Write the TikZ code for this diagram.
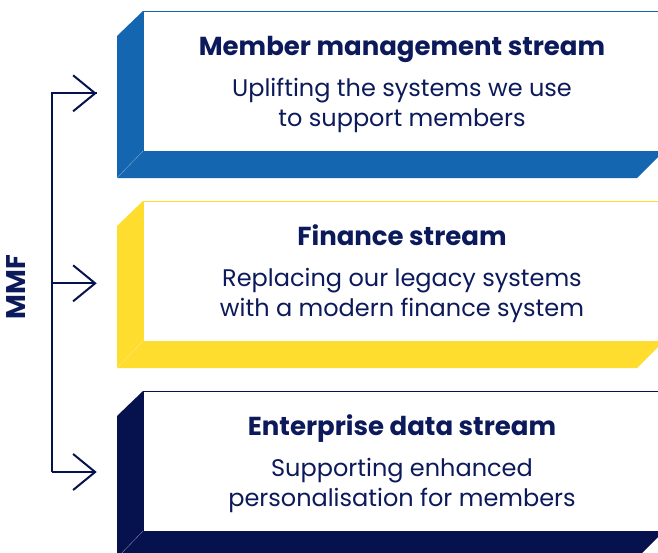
\documentclass[tikz,border=0pt]{standalone}
\usepackage{fontspec}
\setmainfont{Poppins}
\usetikzlibrary{arrows.meta}
\definecolor{mblue}{HTML}{1566B0}
\definecolor{myellow}{HTML}{FFDD2E}
\definecolor{mnavy}{HTML}{06124E}
\definecolor{tnavy}{HTML}{0C1A5B}
\tikzset{
  titletext/.style={anchor=base, text=tnavy, font=\bfseries\fontsize{26}{30}\selectfont, inner sep=0pt},
  subtext/.style={anchor=base, text=tnavy, font=\fontsize{24}{30}\selectfont, inner sep=0pt},
  branch/.style={draw=mnavy, line width=2pt, -{Straight Barb[length=22pt,width=36pt,line width=2pt]}},
  trunk/.style={draw=mnavy, line width=2pt},
}
\newcommand{\streambox}[3]{% #1 top y, #2 fill colour, #3 edge colour
  \fill[#2] (143,#1) -- (117,#1+25) -- (117,#1+167) -- (637,#1+167) -- (664,#1+140) -- (143,#1+140) -- cycle;
  \draw[#3, line width=0.4pt] (117,#1+167) -- (143,#1+140);
  \filldraw[fill=white, draw=#2, line width=1pt] (143,#1) rectangle (664,#1+140);
}
\begin{document}
\begin{tikzpicture}[x=1pt,y=-1pt]
\useasboundingbox (0,0) rectangle (658,552);
\clip (0,0) rectangle (658,552);
\fill[white] (0,0) rectangle (658,552);
\streambox{11}{mblue}{mblue!55!white}
\streambox{201}{myellow}{myellow!60!white}
\streambox{391}{mnavy}{mnavy!50!white}

\node[titletext] (t1) at (402,55) {Member management stream};
\node[subtext] (s1a) at (402,96) {Uplifting the systems we use};
\node[subtext] (s1b) at (402,126) {to support members};

\node[titletext] (t2) at (402,245) {Finance stream};
\node[subtext] (s2a) at (402,286) {Replacing our legacy systems};
\node[subtext] (s2b) at (402,316) {with a modern finance system};

\node[titletext] (t3) at (402,435) {Enterprise data stream};
\node[subtext] (s3a) at (402,476) {Supporting enhanced};
\node[subtext] (s3b) at (402,506) {personalisation for members};

\node[rotate=90, text=tnavy, font=\bfseries\fontsize{27}{30}\selectfont, inner sep=0pt] (mmf) at (16.5,287) {MMF};

\coordinate (j1) at (51.7,93.3);
\coordinate (j2) at (51.7,283.3);
\coordinate (j3) at (51.7,472);
\coordinate (a1) at (96.7,93.3);
\coordinate (a2) at (96.7,283.3);
\coordinate (a3) at (96.7,472);
\draw[trunk, line join=miter] (a1) -- (j1) -- (j3);
\draw[branch] (j1) -- (a1);
\draw[branch] (j2) -- (a2);
\draw[branch] (j3) -- (a3);
\end{tikzpicture}
\end{document}
